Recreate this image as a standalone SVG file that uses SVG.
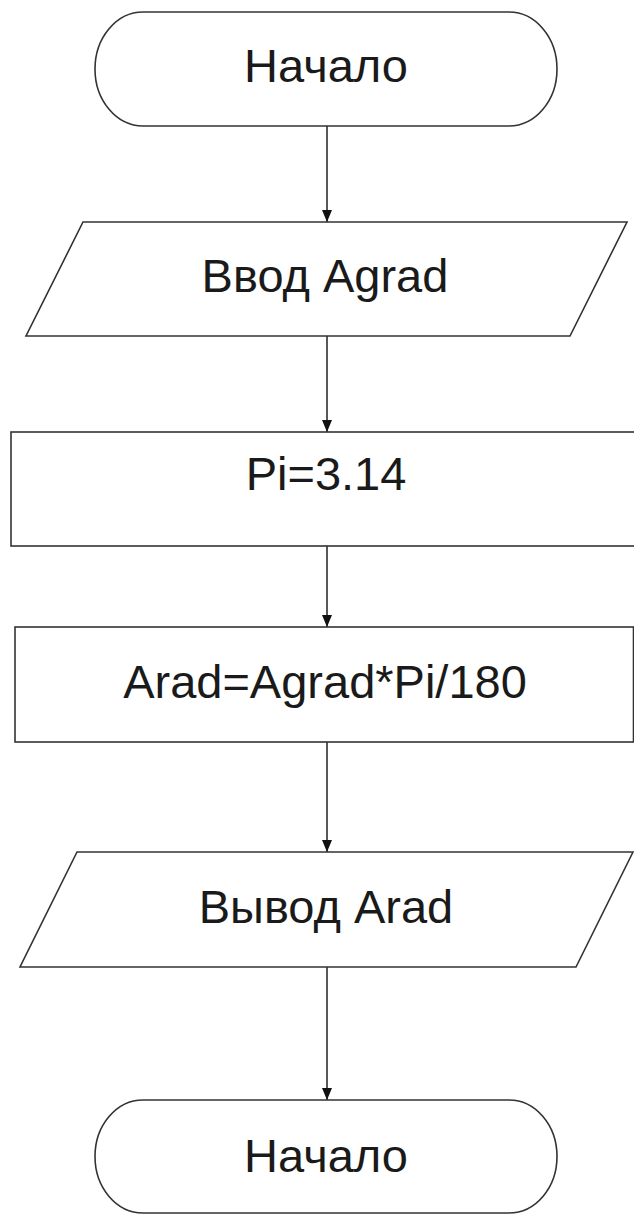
<svg xmlns="http://www.w3.org/2000/svg" width="634" height="1215" viewBox="0 0 634 1215">
  <style>
    .shape { fill: #ffffff; stroke: #333333; stroke-width: 1.6; }
    .label { font-family: "Liberation Sans", Arial, sans-serif; font-size: 47px; fill: #1a1a1a; text-anchor: middle; }
    .conn { stroke: #111111; stroke-width: 1.4; fill: none; marker-end: url(#arrow); }
  </style>
  <defs>
    <marker id="arrow" viewBox="0 0 12 10" refX="12" refY="5" markerWidth="12" markerHeight="10" markerUnits="userSpaceOnUse" orient="auto">
      <path d="M0,0 L12,5 L0,10 Z" fill="#111111"/>
    </marker>
  </defs>
  <rect width="634" height="1215" fill="#ffffff"/>

  <g id="connectors">
    <line class="conn" x1="327" y1="126" x2="327" y2="222"/>
    <line class="conn" x1="327" y1="336" x2="327" y2="432"/>
    <line class="conn" x1="327" y1="546" x2="327" y2="627"/>
    <line class="conn" x1="327" y1="742" x2="327" y2="852"/>
    <line class="conn" x1="327" y1="967" x2="327" y2="1100"/>
  </g>

  <g id="start">
    <rect class="shape" x="95" y="12" width="462" height="114" rx="48" ry="57"/>
    <text class="label" x="326" y="82">Начало</text>
  </g>

  <g id="input">
    <polygon class="shape" points="83,222 627,222 570,336 26,336"/>
    <text class="label" x="325" y="292">Ввод Agrad</text>
  </g>

  <g id="assign-pi">
    <rect class="shape" x="11" y="432" width="634" height="114"/>
    <text class="label" x="326" y="490">Pi=3.14</text>
  </g>

  <g id="compute">
    <rect class="shape" x="15" y="627" width="618.5" height="115"/>
    <text class="label" x="325" y="698">Arad=Agrad*Pi/180</text>
  </g>

  <g id="output">
    <polygon class="shape" points="77,852 633,852 576,967 20,967"/>
    <text class="label" x="326" y="923">Вывод Arad</text>
  </g>

  <g id="end">
    <rect class="shape" x="95" y="1100" width="462" height="113" rx="48" ry="56.5"/>
    <text class="label" x="326" y="1172">Начало</text>
  </g>
</svg>
